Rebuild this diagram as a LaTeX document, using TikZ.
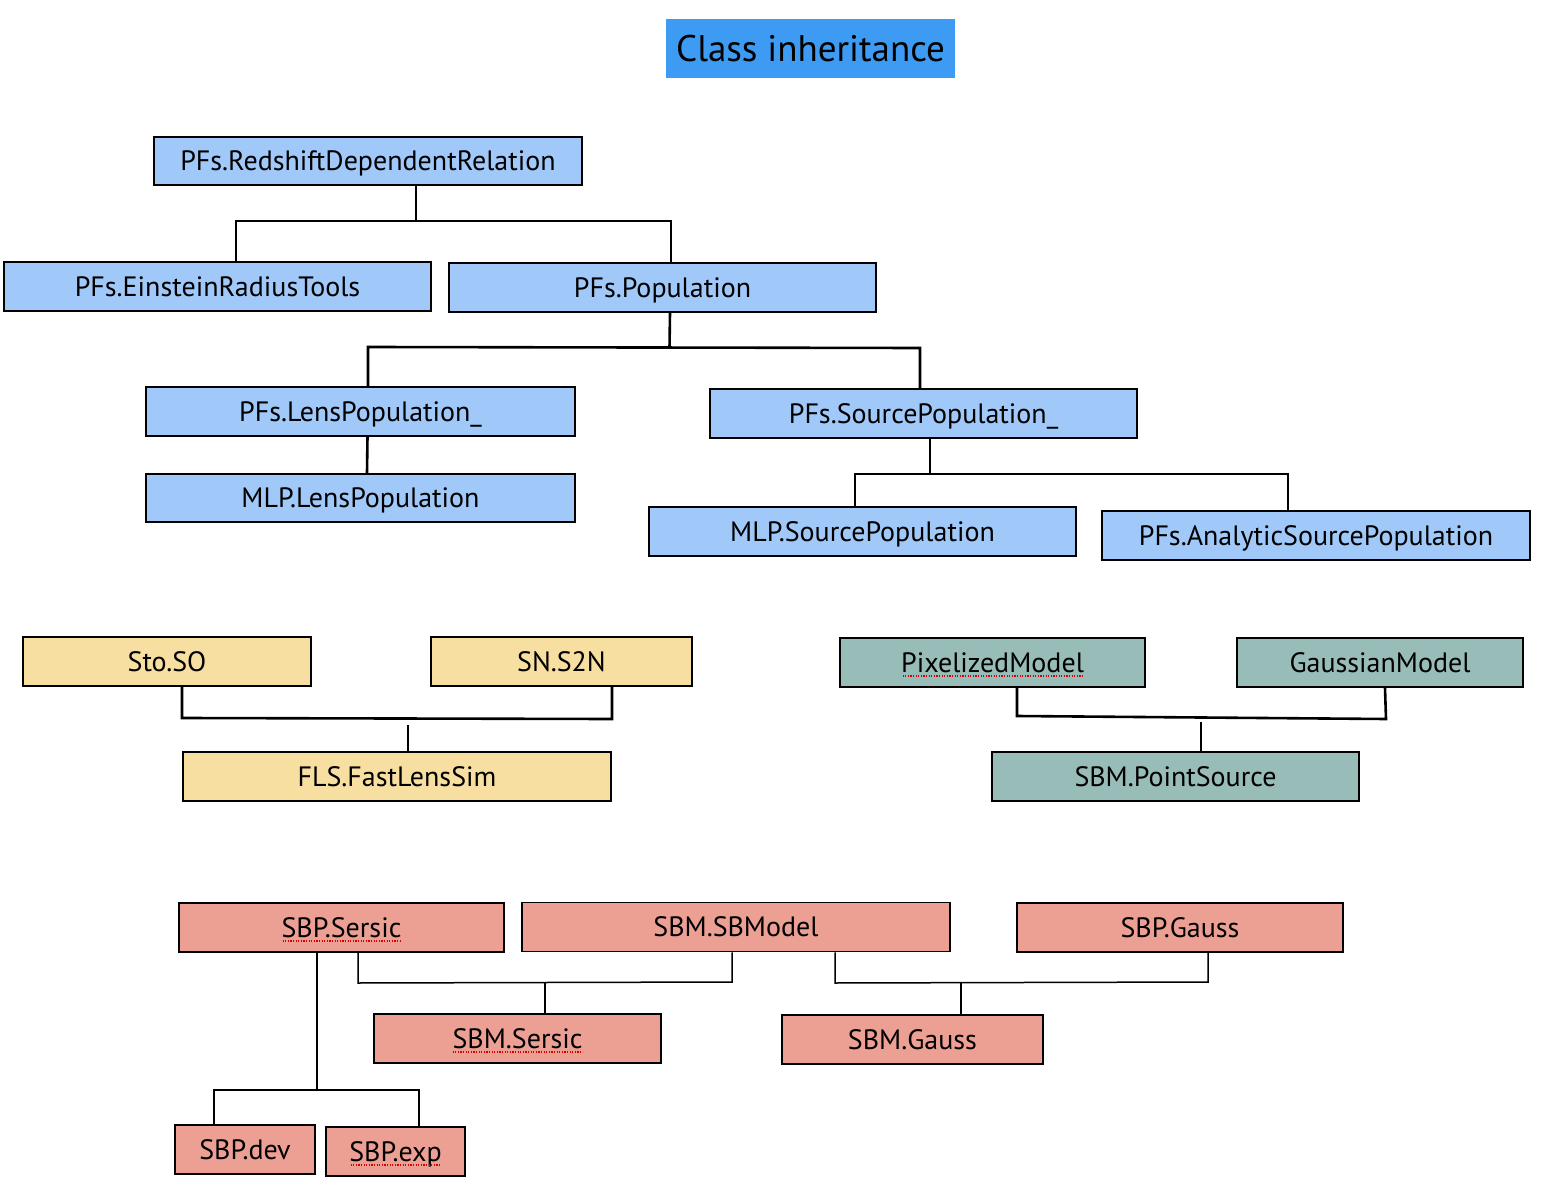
\documentclass[tikz,border=0pt]{standalone}
\usepackage{fontspec}
\setmainfont{PT Sans}
\definecolor{titleblue}{RGB}{62,155,244}
\definecolor{lblue}{RGB}{160,201,249}
\definecolor{lyellow}{RGB}{247,222,161}
\definecolor{lteal}{RGB}{152,188,184}
\definecolor{lred}{RGB}{236,160,148}
\begin{document}
\begin{tikzpicture}[x=1pt,y=-1pt,
  cls/.style={draw=black,line width=1.6pt,inner sep=0pt,font=\fontsize{28}{32}\selectfont,text height=19.6pt,text depth=0pt},
  bluebox/.style={cls,fill=lblue,minimum height=48.5},
  yelbox/.style={cls,fill=lyellow,minimum height=49},
  tealbox/.style={cls,fill=lteal,minimum height=49},
  redbox/.style={cls,fill=lred,minimum height=49},
  thick conn/.style={draw=black,line width=2.6pt},
  thin conn/.style={draw=black,line width=1.5pt},
  spell/.style={draw=red!85!black,line width=1.3pt,dash pattern=on 1.3pt off 1.3pt}]
\useasboundingbox (0,0) rectangle (1556,1198);
\fill[white] (0,0) rectangle (1556,1198);

% title
\node[fill=titleblue,minimum width=289,minimum height=59,inner sep=0pt,font=\fontsize{37}{42}\selectfont,text height=25.9pt,text depth=0pt] (title) at (810.5,48.5) {Class inheritance};

% blue boxes
\node[bluebox,minimum width=428] (rdr)  at (368,161)    {PFs.RedshiftDependentRelation};
\node[bluebox,minimum width=427] (ert)  at (217.5,286.5) {PFs.EinsteinRadiusTools};
\node[bluebox,minimum width=427] (pop)  at (662.5,287.5) {PFs.Population};
\node[bluebox,minimum width=429] (lpop) at (360.5,411.5) {PFs.LensPopulation\_};
\node[bluebox,minimum width=429] (mlpl) at (360.5,498)   {MLP.LensPopulation};
\node[bluebox,minimum width=427] (spop) at (923.5,413.5) {PFs.SourcePopulation\_};
\node[bluebox,minimum width=427] (mlps) at (862.5,531.5) {MLP.SourcePopulation};
\node[bluebox,minimum width=428] (asp)  at (1316,535.5)  {PFs.AnalyticSourcePopulation};

% blue connectors
\draw[thick conn] (rdr.south -| 416,0) -- (416,221);
\draw[thick conn] (ert.north -| 236,0) -- (236,221) -- (671,221) -- (pop.north -| 671,0);
\draw[thick conn] (pop.south -| 670,0) -- (669.5,348);
\draw[thick conn] (lpop.north -| 368,0) -- (368,347) -- (920,348) -- (spop.north -| 920,0);
\draw[thick conn] (lpop.south -| 367.5,0) -- (mlpl.north -| 367,0);
\draw[thick conn] (spop.south -| 930,0) -- (930,474);
\draw[thick conn] (mlps.north -| 855,0) -- (855,474) -- (1288,474) -- (asp.north -| 1288,0);

% yellow boxes
\node[yelbox,minimum width=288] (sto) at (167,661.5)   {Sto.SO};
\node[yelbox,minimum width=261] (sn)  at (561.5,661.5) {SN.S2N};
\node[yelbox,minimum width=428] (fls) at (397,776.5)   {FLS.FastLensSim};
\draw[thick conn] (sto.south -| 182,0) -- (182,718) -- (612,719) -- (sn.south -| 612,0);
\coordinate (flsj) at (408,725);
\draw[thick conn] (flsj) -- (fls.north -| 408,0);

% teal boxes
\node[tealbox,minimum width=305] (pix) at (992.5,662.5) {PixelizedModel};
\node[tealbox,minimum width=286] (gau) at (1380,662.5)  {GaussianModel};
\node[tealbox,minimum width=367] (pts) at (1175.5,776.5) {SBM.PointSource};
\draw[thick conn] (pix.south -| 1017,0) -- (1017,716) -- (1386,719) -- (gau.south -| 1385,0);
\coordinate (ptsj) at (1201,722);
\draw[thick conn] (ptsj) -- (pts.north -| 1201,0);

% red boxes
\node[redbox,minimum width=325] (sbps) at (341.5,927.5) {SBP.Sersic};
\node[redbox,minimum width=428] (sbmm) at (736,927)     {SBM.SBModel};
\node[redbox,minimum width=326] (sbpg) at (1180,927.5)  {SBP.Gauss};
\node[redbox,minimum width=287] (sbms) at (517.5,1038.5) {SBM.Sersic};
\node[redbox,minimum width=261] (sbmg) at (912.5,1039.5) {SBM.Gauss};
\node[redbox,minimum width=140] (dev)  at (245,1149.5)  {SBP.dev};
\node[redbox,minimum width=139] (exp)  at (395.5,1151.5) {SBP.exp};

% red connectors
\draw[thin conn] (sbps.south -| 358,0) -- (358,983) -- (732,982) -- (sbmm.south -| 732,0);
\draw[thin conn] (545,983) -- (sbms.north -| 545,0);
\draw[thin conn] (sbmm.south -| 835,0) -- (835,983) -- (1208,982) -- (sbpg.south -| 1208,0);
\draw[thin conn] (961,983) -- (sbmg.north -| 961,0);
\draw[thin conn] (sbps.south -| 317,0) -- (317,1090);
\draw[thin conn] (dev.north -| 214,0) -- (214,1090) -- (419,1090) -- (exp.north -| 419,0);

% spell-check marks
\draw[spell] ([xshift=-90pt,yshift=-13.5pt]pix.center) -- ([xshift=90pt,yshift=-13.5pt]pix.center);
\draw[spell] ([xshift=-59pt,yshift=-13.5pt]sbps.center) -- ([xshift=59pt,yshift=-13.5pt]sbps.center);
\draw[spell] ([xshift=-65pt,yshift=-13.5pt]sbms.center) -- ([xshift=65pt,yshift=-13.5pt]sbms.center);
\draw[spell] ([xshift=-45pt,yshift=-13.5pt]exp.center) -- ([xshift=45pt,yshift=-13.5pt]exp.center);
\end{tikzpicture}
\end{document}
